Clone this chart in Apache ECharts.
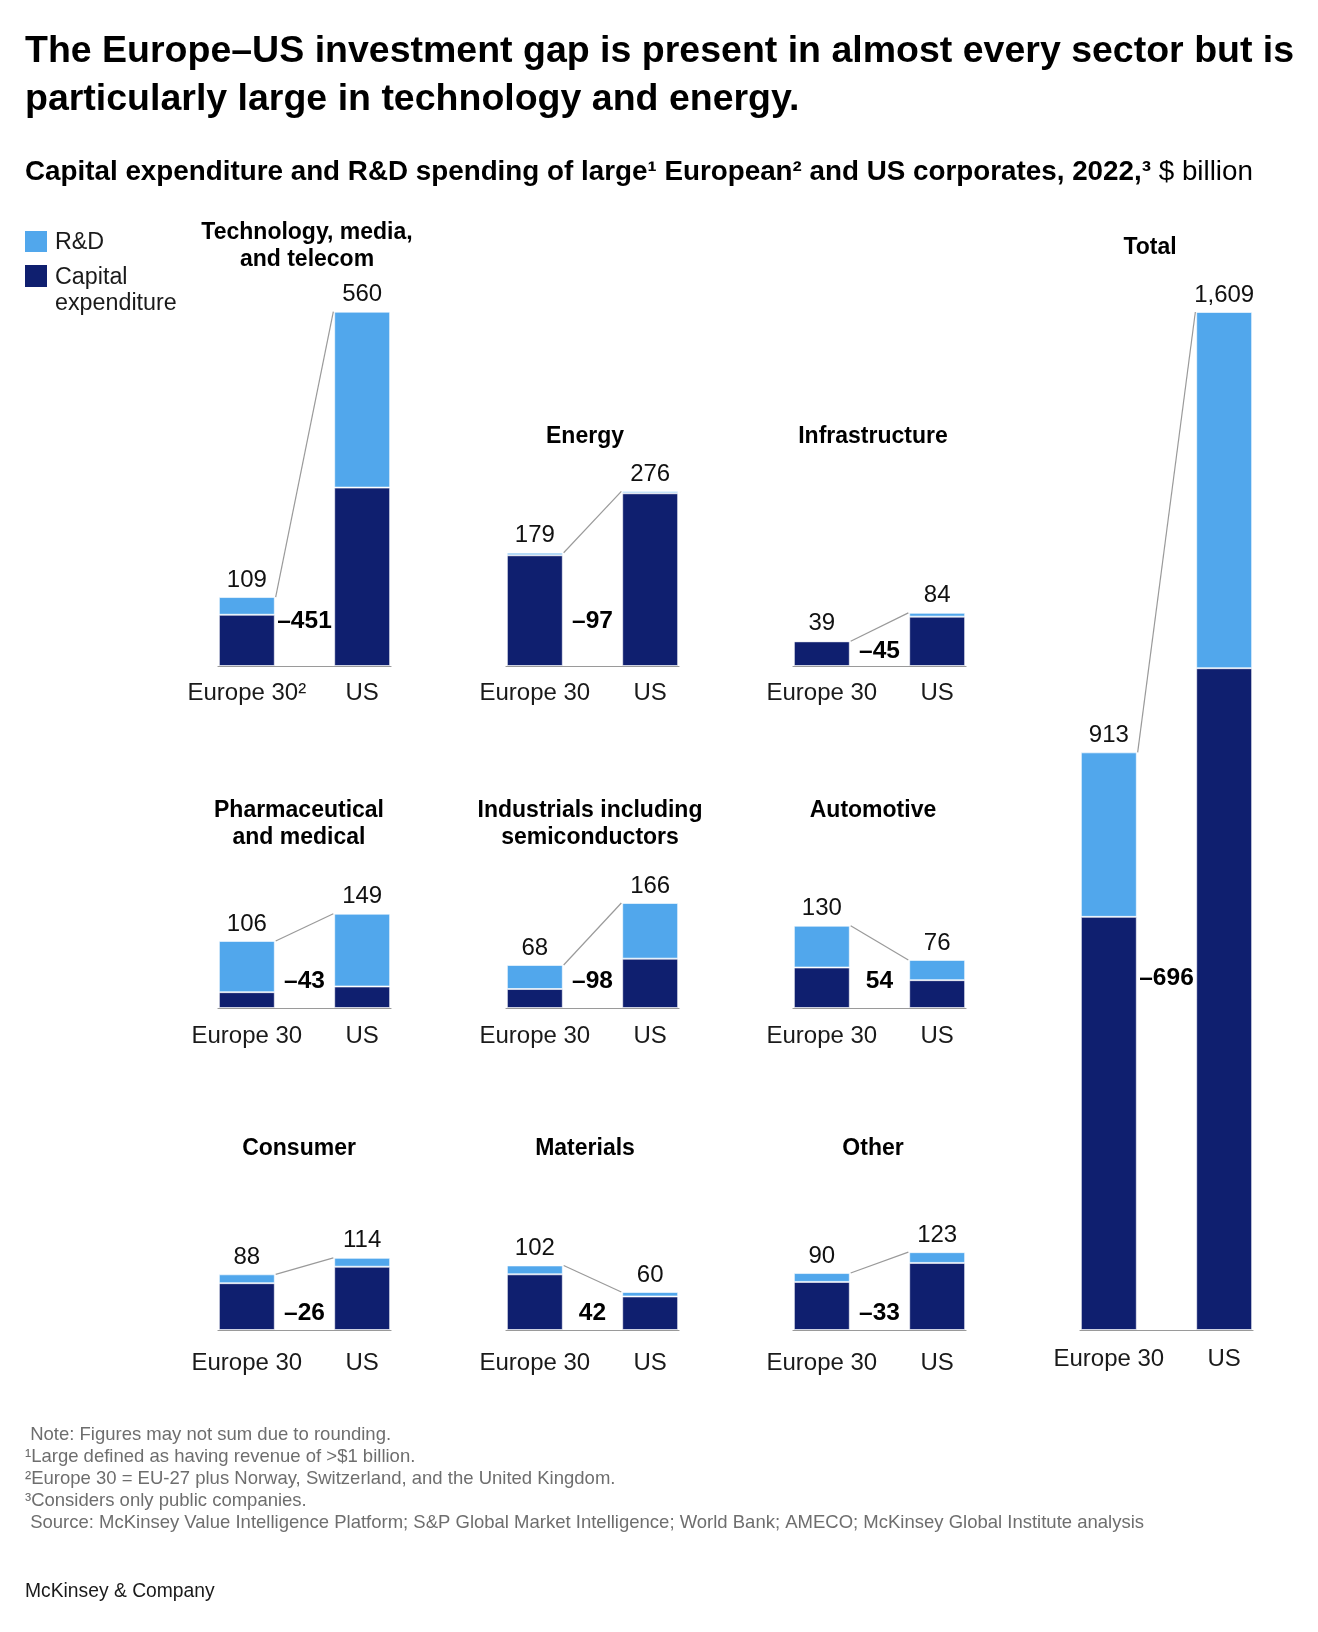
<!DOCTYPE html>
<html>
<head>
<meta charset="utf-8">
<script src="https://cdn.jsdelivr.net/npm/echarts@6/dist/echarts.min.js"></script>
<style>
html,body{margin:0;padding:0;background:#fff;}
#c{width:1318px;height:1632px;}
</style>
</head>
<body>
<div id="c"></div>
<script>
// ---------------- DATA ----------------
const categories = ['Europe 30', '', 'US'];
const sectors = ['Technology, media,\nand telecom', 'Energy', 'Infrastructure',
  'Pharmaceutical\nand medical', 'Industrials including\nsemiconductors', 'Automotive',
  'Consumer', 'Materials', 'Other', 'Total'];
const europeCapex = [81, 175, 39, 25, 30, 64, 74, 88, 76, 653];
const europeRD    = [28, 4, 0, 81, 38, 66, 14, 14, 14, 260];
const usCapex     = [282, 273, 78, 34, 78, 44, 100, 53, 106, 1046];
const usRD        = [278, 3, 6, 115, 88, 32, 14, 7, 17, 563];
const europeTotal = [109, 179, 39, 106, 68, 130, 88, 102, 90, 913];
const usTotal     = [560, 276, 84, 149, 166, 76, 114, 60, 123, 1609];
const gap         = [-451, -97, -45, -43, -98, 54, -26, 42, -33, -696];

// ---------------- LAYOUT ----------------
const PX_PER_UNIT = 0.6327;
const gridLeft  = [218, 506, 793, 218, 506, 793, 218, 506, 793, 1080];
const gridWidth = 173;
const baseY     = [666, 666, 666, 1008, 1008, 1008, 1330, 1330, 1330, 1330];
const yMax      = [600, 600, 600, 600, 600, 600, 600, 600, 600, 1700];
const gapLabelLevel = [70, 70, 24, 43, 43, 43, 26, 26, 26, 556];
const catLabelMargin = [15, 15, 15, 16, 16, 16, 21, 21, 21, 17];
const sectorTitleTop = [219.5, 423, 423, 797.5, 797.5, 797.5, 1135.5, 1135.5, 1135.5, 234];
const sectorTitleX = [307, 585, 873, 299, 590, 873, 299, 585, 873, 1150];

const FONT = '"Liberation Sans", Arial, Helvetica, sans-serif';
const DARK = '#0F1F6F';
const LIGHT = '#51A7EC';

const fmt = v => String(v).replace(/\B(?=(\d{3})+(?!\d))/g, ',');
const gapFmt = v => (v < 0 ? '\u2013' : '') + Math.abs(v);

const grids = [], xAxes = [], yAxes = [], series = [], titles = [];

titles.push({
  text: 'The Europe\u2013US investment gap is present in almost every sector but is\nparticularly large in technology and energy.',
  left: 25, top: 28, padding: 0,
  textStyle: {fontFamily: FONT, fontSize: 37.5, fontWeight: 'bold', lineHeight: 48, color: '#000'}
});
titles.push({
  text: '{b|Capital expenditure and R&D spending of large\u00B9 European\u00B2 and US corporates, 2022,\u00B3} {r|$ billion}',
  left: 25, top: 156, padding: 0,
  textStyle: {
    fontFamily: FONT, fontSize: 27.8, lineHeight: 32, color: '#000',
    rich: {
      b: {fontFamily: FONT, fontSize: 27.8, fontWeight: 'bold', color: '#000', lineHeight: 32},
      r: {fontFamily: FONT, fontSize: 27.8, fontWeight: 'normal', color: '#000', lineHeight: 32}
    }
  }
});

for (let i = 0; i < sectors.length; i++) {
  const h = yMax[i] * PX_PER_UNIT;
  grids.push({left: gridLeft[i], top: baseY[i] - h, width: gridWidth, height: h, containLabel: false});
  xAxes.push({
    type: 'category', gridIndex: i, data: categories, boundaryGap: true,
    axisLine: {show: true, lineStyle: {color: '#9a9a9a', width: 1.2}},
    axisTick: {show: false},
    axisLabel: {
      show: true, interval: 0, margin: catLabelMargin[i], fontFamily: FONT, fontSize: 24, color: '#1a1a1a',
      formatter: v => (i === 0 && v === 'Europe 30') ? 'Europe 30\u00B2' : v
    },
    splitLine: {show: false}
  });
  xAxes.push({type: 'value', gridIndex: i, min: 0, max: 3, show: false});
  yAxes.push({type: 'value', gridIndex: i, min: 0, max: yMax[i], show: false, splitLine: {show: false}});

  const catAxis = 2 * i, valAxis = 2 * i + 1;
  series.push({
    name: 'Capital expenditure', type: 'bar', xAxisIndex: catAxis, yAxisIndex: i, stack: 's' + i,
    barWidth: '97%', silent: true,
    itemStyle: {color: DARK, borderColor: 'rgba(255,255,255,0.6)', borderWidth: 1},
    data: [europeCapex[i], null, usCapex[i]]
  });
  series.push({
    name: 'R&D', type: 'bar', xAxisIndex: catAxis, yAxisIndex: i, stack: 's' + i,
    barWidth: '97%', silent: true,
    itemStyle: {color: LIGHT, borderColor: 'rgba(255,255,255,0.6)', borderWidth: 1},
    label: {
      show: true, position: 'top', distance: 5, fontFamily: FONT, fontSize: 24, color: '#111',
      formatter: p => p.dataIndex === 0 ? fmt(europeTotal[i]) : (p.dataIndex === 2 ? fmt(usTotal[i]) : '')
    },
    data: [europeRD[i], null, usRD[i]]
  });
  series.push({
    type: 'line', xAxisIndex: valAxis, yAxisIndex: i, silent: true, symbol: 'none',
    lineStyle: {color: '#9a9a9a', width: 1.2}, z: 1,
    data: [[1, europeTotal[i]], [2, usTotal[i]]]
  });
  series.push({
    type: 'scatter', xAxisIndex: valAxis, yAxisIndex: i, silent: true, symbolSize: 1,
    itemStyle: {color: 'rgba(255,255,255,0)'},
    label: {show: true, position: 'inside', formatter: gapFmt(gap[i]), fontFamily: FONT,
      fontSize: 24.5, fontWeight: 'bold', color: '#000', opacity: 1},
    data: [[1.5, gapLabelLevel[i]]]
  });

  titles.push({
    text: sectors[i], left: sectorTitleX[i], top: sectorTitleTop[i], textAlign: 'center', padding: 0,
    textStyle: {fontFamily: FONT, fontSize: 23, fontWeight: 'bold', lineHeight: 27, color: '#000'}
  });
}

titles.push({
  text: ' Note: Figures may not sum due to rounding.\n\u00B9Large defined as having revenue of >$1 billion.\n\u00B2Europe 30 = EU-27 plus Norway, Switzerland, and the United Kingdom.\n\u00B3Considers only public companies.\n Source: McKinsey Value Intelligence Platform; S&P Global Market Intelligence; World Bank; AMECO; McKinsey Global Institute analysis',
  left: 25, top: 1424, padding: 0,
  textStyle: {fontFamily: FONT, fontSize: 18.5, fontWeight: 'normal', lineHeight: 22, color: '#6e6e6e'}
});
titles.push({
  text: 'McKinsey & Company', left: 25, top: 1582, padding: 0,
  textStyle: {fontFamily: FONT, fontSize: 19.3, fontWeight: 'normal', color: '#1a1a1a'}
});

const legendGraphic = [
  {type: 'rect', left: 25, top: 231, shape: {width: 22, height: 21}, style: {fill: LIGHT}},
  {type: 'text', x: 55, y: 243, style: {text: 'R&D', font: '23.3px ' + FONT, fill: '#1a1a1a', verticalAlign: 'middle'}},
  {type: 'rect', left: 25, top: 265, shape: {width: 22, height: 22}, style: {fill: DARK}},
  {type: 'text', x: 55, y: 278, style: {text: 'Capital', font: '23.3px ' + FONT, fill: '#1a1a1a', verticalAlign: 'middle'}},
  {type: 'text', x: 55, y: 304, style: {text: 'expenditure', font: '23.3px ' + FONT, fill: '#1a1a1a', verticalAlign: 'middle'}}
];

const chart = echarts.init(document.getElementById('c'), null, {renderer: 'canvas'});
chart.setOption({
  animation: false,
  backgroundColor: '#fff',
  title: titles,
  grid: grids,
  xAxis: xAxes,
  yAxis: yAxes,
  series: series,
  graphic: legendGraphic
});
</script>
</body>
</html>
